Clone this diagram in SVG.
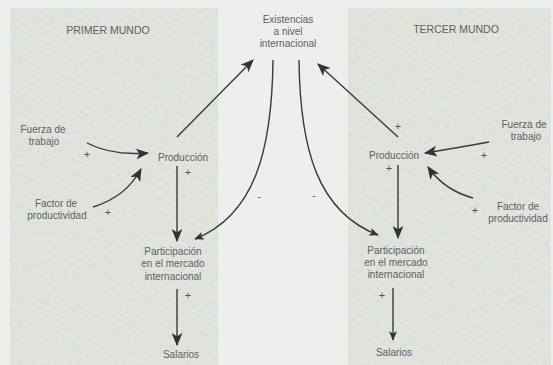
<svg xmlns="http://www.w3.org/2000/svg" width="553" height="365" viewBox="0 0 553 365">
<defs>
<filter id="grain" x="0" y="0" width="100%" height="100%">
<feTurbulence type="fractalNoise" baseFrequency="0.22" numOctaves="2" seed="4" result="n"/>
<feColorMatrix in="n" type="matrix" values="0.35 0 0 0 0.62  0 0.3 0 0 0.68  0 0 0.3 0 0.62  0 0 0 0 0.45"/>
<feComposite in2="SourceGraphic" operator="in"/>
</filter>
<marker id="ah" viewBox="0 0 12 10" refX="11" refY="5" markerWidth="13" markerHeight="11" markerUnits="userSpaceOnUse" orient="auto">
<path d="M0,0 L12,5 L0,10 L3,5 z" fill="#333"/>
</marker>
<marker id="ahs" viewBox="0 0 12 10" refX="11" refY="5" markerWidth="10" markerHeight="8" markerUnits="userSpaceOnUse" orient="auto">
<path d="M0,0 L12,5 L0,10 L3,5 z" fill="#333"/>
</marker>
</defs>
<style>
text{font-family:"Liberation Sans",Arial,sans-serif;font-size:10px;fill:#606060;text-anchor:middle}
.t{font-size:10.5px}
.c{fill:none;stroke:#3a3a3a;stroke-width:1.4}
.a{marker-end:url(#ah)}
.s{marker-end:url(#ahs)}
.p{font-size:11px;fill:#555}
</style>
<rect width="553" height="365" fill="#eeefed"/>
<g id="panels">
<rect x="10" y="8" width="208" height="357" fill="#d9dcd6"/>
<rect x="10" y="8" width="208" height="357" fill="#d9dcd6" filter="url(#grain)"/>
<rect x="348" y="8" width="203" height="357" fill="#d9dcd6"/>
<rect x="348" y="8" width="203" height="357" fill="#d9dcd6" filter="url(#grain)"/>
</g>
<g id="titles">
<text class="t" x="108" y="33.5">PRIMER MUNDO</text>
<text class="t" x="456" y="33">TERCER MUNDO</text>
</g>
<g id="existencias">
<text x="288" y="22.5">Existencias</text>
<text x="288" y="34.5">a nivel</text>
<text x="288" y="46.5">internacional</text>
</g>
<g id="fuerza-izq"><text x="43" y="133">Fuerza de</text><text x="44" y="145">trabajo</text></g>
<g id="factor-izq"><text x="56" y="207">Factor de</text><text x="57" y="219">productividad</text></g>
<g id="produccion-izq"><text x="183" y="160.5">Producción</text></g>
<g id="participacion-izq"><text x="173" y="255">Participación</text><text x="173" y="267">en el mercado</text><text x="173" y="280">internacional</text></g>
<g id="salarios-izq"><text x="181" y="358">Salarios</text></g>
<g id="fuerza-der"><text x="524" y="128">Fuerza de</text><text x="526" y="140">trabajo</text></g>
<g id="factor-der"><text x="518" y="210">Factor de</text><text x="518" y="222">productividad</text></g>
<g id="produccion-der"><text x="394" y="158.5">Producción</text></g>
<g id="participacion-der"><text x="396" y="254">Participación</text><text x="396" y="266">en el mercado</text><text x="396" y="278">internacional</text></g>
<g id="salarios-der"><text x="394" y="356">Salarios</text></g>
<g id="connectors">
<path class="c a" d="M177,137 L253,60"/>
<path class="c a" d="M87,143 Q112,156 148,153"/>
<path class="c a" d="M93,207 Q126,197 141,169"/>
<path class="c a" d="M177,166 L177,241"/>
<path class="c a" d="M177,289 L177,345"/>
<path class="c s" d="M273,60 C272,150 255,215 195,239"/>
<path class="c a" d="M398,137 L318,64"/>
<path class="c a" d="M489,142 Q462,147 425,153"/>
<path class="c a" d="M473,198 Q444,190 428,167"/>
<path class="c a" d="M398,165 L398,238"/>
<path class="c s" d="M393,288 L393,340"/>
<path class="c s" d="M299,60 C300,150 318,212 378,235"/>
</g>
<g id="signs">
<text class="p" x="87" y="158">+</text>
<text class="p" x="188" y="176">+</text>
<text class="p" x="108" y="216">+</text>
<text class="p" x="188" y="299">+</text>
<text class="p" x="398" y="130">+</text>
<text class="p" x="484" y="159">+</text>
<text class="p" x="389" y="172">+</text>
<text class="p" x="475" y="214">+</text>
<text class="p" x="382" y="299">+</text>
<text class="p" x="259" y="200">-</text>
<text class="p" x="314" y="199">-</text>
</g>
</svg>
